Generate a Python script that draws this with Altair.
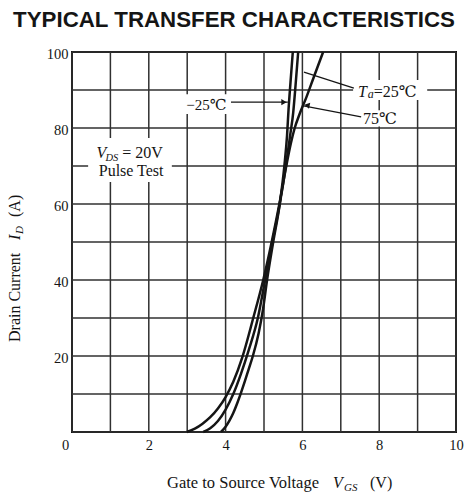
import altair as alt
import pandas as pd

# Transfer curves: gate-source voltage (V) vs drain current (A) per ambient temperature
vgs_75 = [2.99, 3.20, 3.40, 3.60, 3.80, 4.00, 4.20, 4.43, 4.72, 4.98, 5.20, 5.40, 5.58, 5.70, 5.80, 5.92, 6.10, 6.30, 6.54]
id_75 = [0, 0.9, 2.2, 3.9, 6.2, 9.2, 13.2, 19.5, 30, 40, 50, 60, 70, 76, 80, 83.5, 88, 93.5, 100]

vgs_25 = [3.42, 3.60, 3.80, 4.00, 4.20, 4.40, 4.60, 4.84, 5.03, 5.22, 5.41, 5.57, 5.68, 5.76, 5.82, 5.89]
id_25 = [0, 1.0, 2.9, 5.9, 10, 15.3, 21.5, 30, 40, 50, 60, 70, 78, 84, 91, 100]

vgs_m25 = [3.88, 4.00, 4.10, 4.20, 4.30, 4.40, 4.50, 4.60, 4.71, 4.86, 4.97, 5.08, 5.24, 5.41, 5.53, 5.60, 5.64, 5.69, 5.75]
id_m25 = [0, 1.4, 3.0, 5.0, 7.5, 10.3, 13.3, 16.5, 20, 26, 32, 40, 50, 60, 70, 78, 85, 92, 100]

x_ticks = list(range(0, 11))
y_ticks = list(range(0, 101, 10))

rows = []
for name, xs_, ys_ in [("75", vgs_75, id_75), ("25", vgs_25, id_25), ("-25", vgs_m25, id_m25)]:
    for k, (v, i) in enumerate(zip(xs_, ys_)):
        rows.append({"temp": name, "vgs": v, "id": i, "k": k})
curves = pd.DataFrame(rows)

SERIF = "Liberation Serif, DejaVu Serif"
INK = "#151515"
GRID = "#303030"
ONE = alt.Data(values=[{}])

xs = alt.Scale(domain=[0, 10], nice=False, zero=False)
ys = alt.Scale(domain=[0, 100], nice=False, zero=False)

x_axis = alt.Axis(
    values=x_ticks, grid=False, domain=False, ticks=False,
    labelFlush=False, labelOverlap=False,
    labelExpr="datum.value % 2 == 0 ? datum.label : ''",
    labelFont=SERIF, labelFontSize=14.5, labelColor=INK, labelPadding=6,
    labelBaseline="top",
    labelOffset={"condition": {"test": "datum.value == 0", "value": -7}, "value": 0},
    title=None,
)
y_axis = alt.Axis(
    values=y_ticks, grid=False, domain=False, ticks=False, labelOverlap=False,
    labelExpr="datum.value % 20 == 0 && datum.value > 0 ? datum.label : ''",
    labelFont=SERIF, labelFontSize=14.5, labelColor=INK, labelPadding=4,
    labelOffset=2, title=None,
)

# grid: one line per volt and per 10 A
vgrid = alt.Chart(pd.DataFrame({"vgs": x_ticks})).mark_rule(
    color=GRID, strokeWidth=1.5
).encode(x=alt.X("vgs:Q", scale=xs, axis=x_axis))
hgrid = alt.Chart(pd.DataFrame({"id": y_ticks})).mark_rule(
    color=GRID, strokeWidth=1.5
).encode(y=alt.Y("id:Q", scale=ys, axis=y_axis))

lines = alt.Chart(curves).mark_line(
    interpolate="monotone", color=INK, strokeWidth=2.5
).encode(
    x=alt.X("vgs:Q", scale=xs, axis=x_axis),
    y=alt.Y("id:Q", scale=ys, axis=y_axis),
    detail="temp:N", order="k:Q",
)


def box(v0, v1, i0, i1):
    return alt.Chart(ONE).mark_rect(fill="white").encode(
        x=alt.datum(v0), x2=alt.datum(v1), y=alt.datum(i0), y2=alt.datum(i1)
    )


def note(text, v, i, size=15, style="normal", align="left"):
    return alt.Chart(ONE).mark_text(
        text=text, font=SERIF, fontSize=size, fontStyle=style, color=INK,
        align=align, baseline="alphabetic"
    ).encode(x=alt.datum(v), y=alt.datum(i))


def leader(v0, i0, v1, i1):
    return alt.Chart(ONE).mark_rule(color=INK, strokeWidth=1.3).encode(
        x=alt.datum(v0), y=alt.datum(i0), x2=alt.datum(v1), y2=alt.datum(i1)
    )


def head(v, i, angle):
    return alt.Chart(ONE).mark_point(
        shape="triangle-up", filled=True, color=INK, size=38, angle=angle, opacity=1
    ).encode(x=alt.datum(v), y=alt.datum(i))


def page_text(text, x, y, size, font=SERIF, style="normal", weight="normal", angle=0, align="left"):
    return alt.Chart(ONE).mark_text(
        text=text, font=font, fontSize=size, fontStyle=style, fontWeight=weight,
        color=INK, align=align, baseline="alphabetic", angle=angle
    ).encode(x=alt.value(x), y=alt.value(y))


backs = [
    box(0.42, 2.60, 65.8, 77.4),     # test conditions
    box(2.89, 4.09, 83.7, 88.9),     # -25 label
    box(7.32, 9.25, 87.4, 92.6),     # Ta label
    box(7.47, 8.36, 80.4, 84.7),     # 75 label
]

notes = [
    note("V", 0.64, 72.0, size=16, style="italic"),
    note("DS", 0.87, 71.4, size=10.5, style="italic"),
    note("= 20V", 1.31, 72.0, size=16),
    note("Pulse Test", 1.54, 67.4, size=16, align="center"),
    note("\u221225\u2103", 3.50, 84.7, size=15, align="center"),
    note("T", 7.45, 88.2, size=16, style="italic"),
    note("a", 7.70, 87.9, size=12, style="italic"),
    note("=25\u2103", 7.86, 88.2, size=16),
    note("75\u2103", 7.58, 81.05, size=16),
]

pointers = [
    leader(4.14, 86.8, 5.62, 86.8),
    head(5.52, 86.8, 90),
    leader(7.34, 90.5, 6.04, 94.7),
    leader(7.53, 82.9, 6.03, 85.8),
    head(6.12, 86.0, 282),
]

outside = [
    page_text("TYPICAL TRANSFER CHARACTERISTICS", 162, -25.5, 22.3,
              font="Liberation Sans", weight="bold", align="center"),
    # x-axis title
    page_text("Gate to Source Voltage", 95, 436, 16.5),
    page_text("V", 261, 436, 16, style="italic"),
    page_text("GS", 272, 439, 11, style="italic"),
    page_text("(V)", 298, 436, 16),
    # y-axis title (rotated, reading upwards)
    page_text("Drain Current", -52.5, 290, 16, angle=270),
    page_text("I", -52.5, 188, 16, style="italic", angle=270),
    page_text("D", -49.5, 182, 11, style="italic", angle=270),
    page_text("(A)", -52.5, 165, 16, angle=270),
]

chart = alt.layer(
    vgrid, hgrid, *backs, lines, *pointers, *notes, *outside
).properties(
    width=384, height=380,
    padding={"left": 72, "top": 52, "right": 8, "bottom": 64},
    autosize="none",
    background="white",
).configure_view(stroke="#111111", strokeWidth=2)

chart.save("out.html", embed_options={"renderer": "svg", "actions": False})
